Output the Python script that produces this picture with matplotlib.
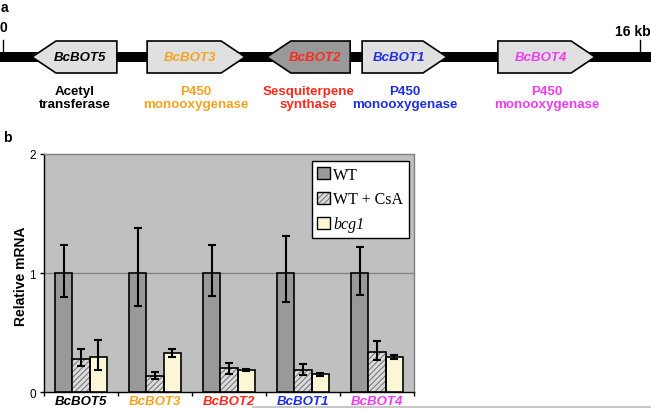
import matplotlib
matplotlib.use("Agg")
import matplotlib.pyplot as plt
from matplotlib.patches import Polygon, Patch
from matplotlib.legend_handler import HandlerTuple
from matplotlib.lines import Line2D
import numpy as np

# ---------------- data ----------------
gene_names = ['BcBOT5', 'BcBOT3', 'BcBOT2', 'BcBOT1', 'BcBOT4']
gene_colors = ['#000000', '#f5a31f', '#ff2a1a', '#1f2ee0', '#f03cf0']
gene_start_kb = [0.73, 3.62, 6.63, 9.02, 12.43]
gene_end_kb = [2.86, 6.08, 8.72, 11.15, 14.87]
gene_strand = [-1, 1, -1, 1, 1]
gene_fill = ['#e0e0e0', '#e0e0e0', '#999999', '#e0e0e0', '#e0e0e0']
gene_function = ['Acetyl\ntransferase', 'P450\nmonooxygenase', 'Sesquiterpene\nsynthase',
                 'P450\nmonooxygenase', 'P450\nmonooxygenase']
cluster_len_kb = 16

series_names = ['WT', 'WT + CsA', 'bcg1']
wt = [1.0, 1.0, 1.0, 1.0, 1.0]
wt_err_lo = [0.20, 0.275, 0.19, 0.24, 0.18]
wt_err_hi = [0.24, 0.38, 0.24, 0.31, 0.22]
csa = [0.28, 0.14, 0.20, 0.19, 0.34]
csa_err_lo = [0.06, 0.03, 0.045, 0.045, 0.07]
csa_err_hi = [0.08, 0.03, 0.05, 0.045, 0.09]
bcg1 = [0.30, 0.33, 0.185, 0.15, 0.297]
bcg1_err_lo = [0.11, 0.03, 0.01, 0.015, 0.02]
bcg1_err_hi = [0.14, 0.03, 0.01, 0.015, 0.017]

# ---------------- figure ----------------
W, H = 651, 410
fig = plt.figure(figsize=(W / 100, H / 100), dpi=100)
plt.rcParams['hatch.color'] = '#7a7a7a'
plt.rcParams['hatch.linewidth'] = 0.8
SANS = 'Liberation Sans'
SERIF = 'Liberation Serif'

# ---------------- panel a ----------------
px_per_kb = (640 - 3) / cluster_len_kb
axA = fig.add_axes([0, (H - 130) / H, 1, 130 / H])
axA.set_xlim(-3 / px_per_kb, (W - 3) / px_per_kb)
axA.set_ylim(130, 0)
axA.axis('off')

# backbone
axA.fill_between(axA.get_xlim(), 53, 63, color='black', lw=0, zorder=1)
for kb in [0, cluster_len_kb]:
    axA.plot([kb, kb], [41, 53], color='black', lw=1, zorder=1)
axA.text(0, 28, '0', ha='center', va='center', fontsize=10, fontweight='bold', family=SANS)
axA.text(axA.get_xlim()[1] - 0.02, 32, '16 kb', ha='right', va='center', fontsize=10,
         fontweight='bold', family=SANS)

head = 0.6
top, bot, mid = 42, 74, 58
for name, s, e, d, fc, col, fn in zip(gene_names, gene_start_kb, gene_end_kb, gene_strand,
                                      gene_fill, gene_colors, gene_function):
    if d > 0:
        pts = [(s, top), (e - head, top), (e, mid), (e - head, bot), (s, bot)]
        body_c = (s + e - head) / 2
    else:
        pts = [(s, mid), (s + head, top), (e, top), (e, bot), (s + head, bot)]
        body_c = (s + head + e) / 2
    axA.add_patch(Polygon(pts, closed=True, facecolor=fc, edgecolor='black', lw=1.2, zorder=2))
    tx = (body_c + (s + e) / 2) / 2
    axA.text(tx, mid, name, ha='center', va='center', color=col, fontsize=9.5,
             fontweight='bold', fontstyle='italic', family=SANS, zorder=3)
    axA.text((s + e) / 2, 98.5, fn, ha='center', va='center', color=col, fontsize=9.6,
             fontweight='bold', family=SANS, linespacing=1.2)

fig.text(1 / W, 1 - 0.5 / H, 'a', ha='left', va='top', fontsize=10, fontweight='bold', family=SANS)
fig.text(3 / W, 1 - 131 / H, 'b', ha='left', va='top', fontsize=10, fontweight='bold', family=SANS)

# ---------------- panel b ----------------
L, R, T, B = 44, 414, 155, 393.3
ax = fig.add_axes([L / W, (H - B) / H, (R - L) / W, (B - T) / H])
ax.set_facecolor('#c0c0c0')
x = np.arange(len(gene_names))
bw = 0.23
offs = [-bw, 0, bw]
ekw = dict(ecolor='black', elinewidth=1.5, capsize=3, capthick=1.5, zorder=5, fmt='none')

ax.bar(x + offs[0], wt, bw, color='#999999', edgecolor='black', lw=1.2, zorder=3)
ax.bar(x + offs[1], csa, bw, color='#dcdcdc', hatch='//////', zorder=3)
ax.bar(x + offs[1], csa, bw, fill=False, edgecolor='black', lw=1.2, zorder=4)
ax.bar(x + offs[2], bcg1, bw, color='#fbf6d6', edgecolor='black', lw=1.2, zorder=3)
ax.errorbar(x + offs[0], wt, yerr=[wt_err_lo, wt_err_hi], **ekw)
ax.errorbar(x + offs[1], csa, yerr=[csa_err_lo, csa_err_hi], **ekw)
ax.errorbar(x + offs[2], bcg1, yerr=[bcg1_err_lo, bcg1_err_hi], **ekw)

ax.set_xlim(-0.5, len(gene_names) - 0.5)
ax.set_ylim(0, 2)
ax.set_yticks([0, 1, 2])
ax.set_yticklabels(['0', '1', '2'], fontsize=8.5, family=SANS)
ax.axhline(1, color='#808080', lw=0.9, zorder=1)
ax.set_xticks(x)
ax.set_xticklabels(gene_names, fontsize=9.5, fontweight='bold', fontstyle='italic', family=SANS)
for lbl, c in zip(ax.get_xticklabels(), gene_colors):
    lbl.set_color(c)
ax.set_xticks(np.arange(-0.5, len(gene_names)), minor=True)
ax.tick_params(axis='x', which='major', length=0, pad=2)
ax.tick_params(axis='x', which='minor', length=3, width=1, direction='out')
ax.tick_params(axis='y', length=3, width=1, pad=3)
for sp in ['left', 'bottom']:
    ax.spines[sp].set_color('black')
    ax.spines[sp].set_linewidth(1)
for sp in ['top', 'right']:
    ax.spines[sp].set_color('#808080')
    ax.spines[sp].set_linewidth(1)

fig.text(21 / W, 1 - 276.5 / H, 'Relative mRNA', rotation=90, ha='center', va='center',
         fontsize=10, fontweight='bold', family=SANS)

h_wt = Patch(facecolor='#999999', edgecolor='black', lw=1)
h_csa = (Patch(facecolor='#dcdcdc', hatch='//////'), Patch(fill=False, edgecolor='black', lw=1))
h_b = Patch(facecolor='#fbf6d6', edgecolor='black', lw=1)
leg = ax.legend([h_wt, h_csa, h_b], ['WT', 'WT + CsA', 'bcg1'],
                handler_map={tuple: HandlerTuple(ndivide=1)},
                loc='upper right', bbox_to_anchor=(1 - 5 / (R - L), 1 - 7 / (B - T)),
                borderaxespad=0, fancybox=False, framealpha=1, edgecolor='black',
                prop={'family': SERIF, 'size': 11.5}, handlelength=0.8, handleheight=0.8,
                handletextpad=0.2, labelspacing=0.55, borderpad=0.35)
leg.get_frame().set_linewidth(1)
leg.get_texts()[2].set_fontstyle('italic')

fig.add_artist(Line2D([253 / W, 1], [1 - 408 / H, 1 - 408 / H], color='#c8c8c8', lw=1.5))

fig.savefig('out.png', dpi=100)
